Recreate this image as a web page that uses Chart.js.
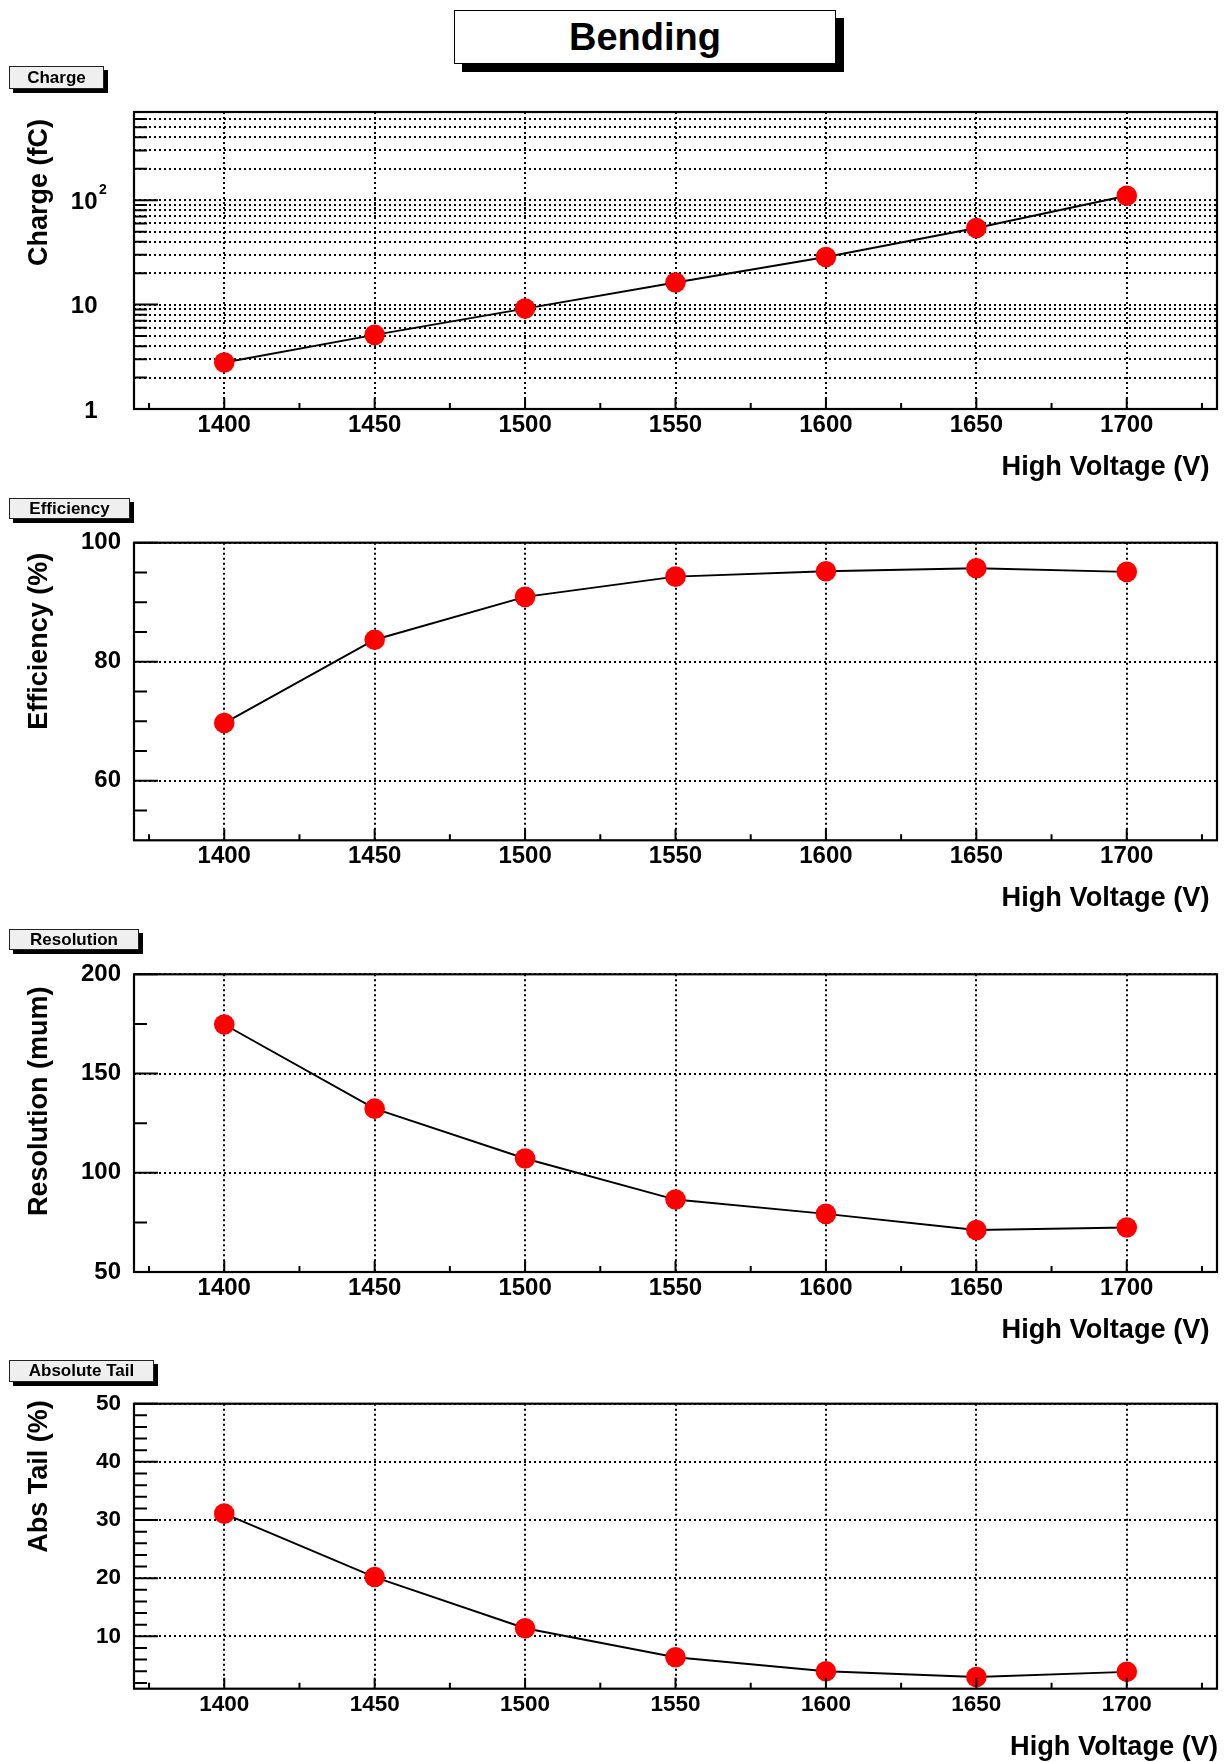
<!DOCTYPE html>
<html>
<head>
<meta charset="utf-8">
<title>Bending</title>
<script src="https://cdn.jsdelivr.net/npm/chart.js@4.4.1/dist/chart.umd.min.js"></script>
<style>
  html, body { margin: 0; padding: 0; background: #ffffff; }
  body { position: relative; width: 1231px; height: 1762px; overflow: hidden;
         font-family: "Liberation Sans", Arial, Helvetica, sans-serif; }
  canvas { position: absolute; left: 0; }
  .pave { position: absolute; box-sizing: border-box; text-align: center; font-weight: bold;
          color: #000; z-index: 2; white-space: nowrap; }
  #main-title { left: 454px; top: 10px; width: 382px; height: 54px; background: #fff;
                border: 1.5px solid #000; box-shadow: 8px 8px 0 #000; font-size: 38px; line-height: 52px; }
  .tag { left: 9px; background: #efefef; border: 1px solid #222; box-shadow: 4px 4px 0 #000; font-size: 17px; }
</style>
</head>
<body>
<div class="pave" id="main-title">Bending</div>
<div class="pave tag" style="top:66px;width:95px;height:23px;line-height:21px">Charge</div>
<div class="pave tag" style="top:498px;width:121px;height:21px;line-height:19px">Efficiency</div>
<div class="pave tag" style="top:929px;width:130px;height:21px;line-height:19px">Resolution</div>
<div class="pave tag" style="top:1360px;width:145px;height:22px;line-height:20px">Absolute Tail</div>

<canvas id="c-charge" width="1231" height="428" style="top:72px"></canvas>
<canvas id="c-eff" width="1231" height="423" style="top:502px"></canvas>
<canvas id="c-res" width="1231" height="421" style="top:934px"></canvas>
<canvas id="c-tail" width="1231" height="399" style="top:1363px"></canvas>

<script>
// ---- measured values ----
const voltages = [1400, 1450, 1500, 1550, 1600, 1650, 1700];
const chargeFc = [2.79, 5.13, 9.16, 16.3, 28.6, 54.2, 110.4];
const efficiencyPct = [69.7, 83.7, 90.9, 94.3, 95.2, 95.7, 95.1];
const resolutionUm = [174.7, 132.3, 107.2, 86.5, 79.3, 71.2, 72.4];
const absTailPct = [31.1, 20.2, 11.4, 6.4, 4.0, 3.0, 3.9];

// ---- axis ticks ----
const voltageTicks = [1400, 1450, 1500, 1550, 1600, 1650, 1700];
const voltageMinorTicks = [1375, 1425, 1475, 1525, 1575, 1625, 1675, 1725];

const chargeGrid = [1, 2, 3, 4, 5, 6, 7, 8, 9, 10, 20, 30, 40, 50, 60, 70, 80, 90, 100, 200, 300, 400, 500, 600, 700];
const chargeMajorTicks = [1, 10, 100];
const chargeMinorTicks = [2, 3, 4, 5, 6, 7, 8, 9, 20, 30, 40, 50, 60, 70, 80, 90, 200, 300, 400, 500, 600, 700];
const chargeLabelValues = [1, 10, 100];
const chargeLabelBases = ['1', '10', '10'];
const chargeLabelExponents = ['', '', '2'];

const efficiencyTicks = [60, 80, 100];
const efficiencyMinorTicks = [55, 65, 70, 75, 85, 90, 95];
const resolutionTicks = [50, 100, 150, 200];
const resolutionMinorTicks = [75, 125, 175];
const tailTicks = [10, 20, 30, 40, 50];
const tailMinorTicks = [2, 4, 6, 8, 12, 14, 16, 18, 22, 24, 26, 28, 32, 34, 36, 38, 42, 44, 46, 48];

const FONT = '"Liberation Sans", Arial, Helvetica, sans-serif';
const GRID_WIDTH = 2;

const panels = [
  { canvasId: 'c-charge', values: chargeFc, yType: 'logarithmic', yMin: 1, yMax: 700,
    yGrid: chargeGrid, yMajor: chargeMajorTicks, yMinor: chargeMinorTicks, logLabels: true,
    yTitle: 'Charge (fC)', xTitle: 'High Voltage (V)',
    canvasTop: 72, frameTop: 112, frameBottom: 409, tickSize: 24, xTickPad: 1.8,
    yTitleEnd: 7, xTitleInset: 7.5 },
  { canvasId: 'c-eff', values: efficiencyPct, yType: 'linear', yMin: 50, yMax: 100,
    yGrid: efficiencyTicks, yMajor: efficiencyTicks, yMinor: efficiencyMinorTicks,
    yTitle: 'Efficiency (%)', xTitle: 'High Voltage (V)',
    canvasTop: 502, frameTop: 542.7, frameBottom: 840.3, tickSize: 24, xTickPad: 1.8,
    yTitleEnd: 10, xTitleInset: 7.5 },
  { canvasId: 'c-res', values: resolutionUm, yType: 'linear', yMin: 50, yMax: 200,
    yGrid: resolutionTicks, yMajor: resolutionTicks, yMinor: resolutionMinorTicks,
    yTitle: 'Resolution (mum)', xTitle: 'High Voltage (V)',
    canvasTop: 934, frameTop: 974.3, frameBottom: 1272, tickSize: 24, xTickPad: 1.8,
    yTitleEnd: 12.3, xTitleInset: 7.5 },
  { canvasId: 'c-tail', values: absTailPct, yType: 'linear', yMin: 1, yMax: 50,
    yGrid: tailTicks, yMajor: tailTicks, yMinor: tailMinorTicks,
    yTitle: 'Abs Tail (%)', xTitle: 'High Voltage (V)',
    canvasTop: 1363, frameTop: 1403.7, frameBottom: 1688.7, tickSize: 22.5, xTickPad: 2.4,
    yTitleEnd: -3.4, xTitleInset: -1 }
];

// Frame, inward tick marks, axis titles and log-axis labels in the ROOT style
function framePlugin(p) {
  return {
    id: 'rootFrame',
    afterDraw(chart) {
      const { ctx, chartArea: a, scales } = chart;
      const xs = scales.x, ys = scales.y;
      ctx.save();
      ctx.strokeStyle = '#000';
      ctx.fillStyle = '#000';

      ctx.lineWidth = 2;
      ctx.beginPath();
      voltageTicks.forEach(v => { const px = xs.getPixelForValue(v); ctx.moveTo(px, a.bottom); ctx.lineTo(px, a.bottom - 11); });
      voltageMinorTicks.forEach(v => { const px = xs.getPixelForValue(v); ctx.moveTo(px, a.bottom); ctx.lineTo(px, a.bottom - 6); });
      p.yMajor.forEach(v => { const py = ys.getPixelForValue(v); ctx.moveTo(a.left, py); ctx.lineTo(a.left + 24, py); });
      p.yMinor.forEach(v => { const py = ys.getPixelForValue(v); ctx.moveTo(a.left, py); ctx.lineTo(a.left + 13, py); });
      ctx.stroke();

      ctx.lineWidth = 2.2;
      ctx.strokeRect(a.left, a.top, a.right - a.left, a.bottom - a.top);

      ctx.font = 'bold 27.2px ' + FONT;
      ctx.textAlign = 'right';
      ctx.textBaseline = 'alphabetic';
      ctx.fillText(p.xTitle, a.right - p.xTitleInset, a.bottom + 66);

      ctx.save();
      ctx.font = 'bold 27px ' + FONT;
      ctx.translate(46.5, a.top + p.yTitleEnd);
      ctx.rotate(-Math.PI / 2);
      ctx.fillText(p.yTitle, 0, 0);
      ctx.restore();

      if (p.logLabels) {
        chargeLabelValues.forEach((v, i) => {
          const py = ys.getPixelForValue(v) + 2;
          const xr = a.left - 36.5;
          ctx.font = 'bold 24px ' + FONT;
          ctx.textAlign = 'right';
          ctx.textBaseline = 'middle';
          ctx.fillText(chargeLabelBases[i], xr, py);
          if (chargeLabelExponents[i]) {
            ctx.font = 'bold 14px ' + FONT;
            ctx.textAlign = 'left';
            ctx.textBaseline = 'alphabetic';
            ctx.fillText(chargeLabelExponents[i], xr + 1.5, py - 8);
          }
        });
      }
      ctx.restore();
    }
  };
}

function buildPanel(p) {
  const canvas = document.getElementById(p.canvasId);
  const h = canvas.height;
  const xHeight = h - (p.frameBottom - p.canvasTop);
  const tickFont = { family: FONT, weight: 'bold', size: p.tickSize };

  const yAxis = {
    type: p.yType, min: p.yMin, max: p.yMax,
    afterBuildTicks: s => { s.ticks = p.yGrid.map(v => ({ value: v })); },
    afterFit: s => { s.width = 134; },
    grid: { color: '#000', lineWidth: GRID_WIDTH, drawTicks: false },
    border: { display: false, dash: [2, 3] },
    ticks: p.logLabels
      ? { display: false, autoSkip: false }
      : { color: '#000', font: tickFont, padding: 13, autoSkip: false, callback: v => String(v) }
  };

  return new Chart(canvas, {
    type: 'line',
    data: {
      datasets: [{
        data: voltages.map((v, i) => ({ x: v, y: p.values[i] })),
        borderColor: '#000',
        borderWidth: 1.9,
        tension: 0,
        pointRadius: 10.3,
        pointBorderWidth: 0,
        pointBackgroundColor: '#ff0000',
        pointBorderColor: '#ff0000'
      }]
    },
    options: {
      responsive: false,
      animation: false,
      events: [],
      layout: { padding: { left: 0, right: 14, top: p.frameTop - p.canvasTop, bottom: 0 } },
      plugins: { legend: { display: false }, tooltip: { enabled: false } },
      scales: {
        x: {
          type: 'linear', position: 'bottom', min: 1370, max: 1730,
          afterBuildTicks: s => { s.ticks = voltageTicks.map(v => ({ value: v })); },
          afterFit: s => { s.height = xHeight; },
          grid: { color: '#000', lineWidth: GRID_WIDTH, drawTicks: false },
          border: { display: false, dash: [2, 3] },
          ticks: { color: '#000', font: tickFont, padding: p.xTickPad, maxRotation: 0, autoSkip: false,
                   callback: v => String(v) }
        },
        y: yAxis
      }
    },
    plugins: [framePlugin(p)]
  });
}

panels.forEach(buildPanel);
</script>
</body>
</html>
